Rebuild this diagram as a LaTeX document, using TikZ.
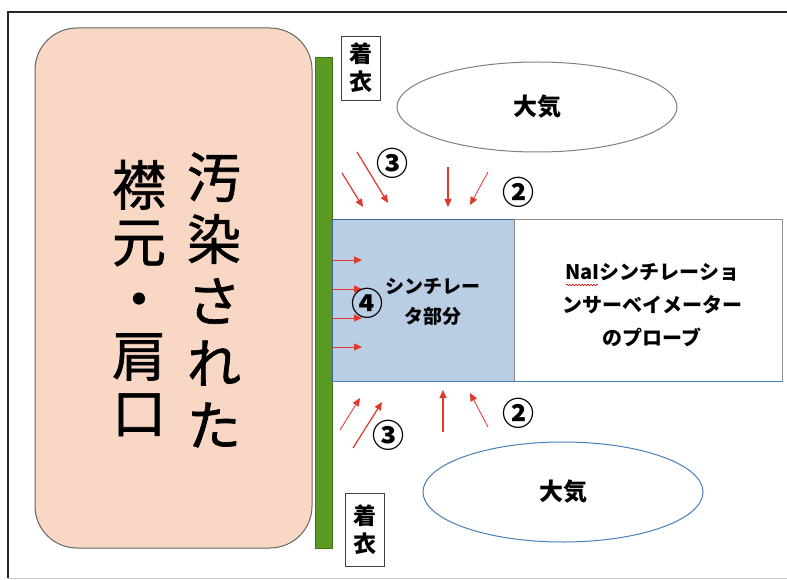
\documentclass[tikz,border=0pt]{standalone}
\usepackage{fontspec}
\setmainfont{Noto Sans CJK JP}
\newfontfamily\jpmed[FakeBold=1.2]{Noto Sans CJK JP}
\usetikzlibrary{arrows.meta,shapes.geometric,decorations.pathmorphing}
\definecolor{skin}{HTML}{F8D8C4}
\definecolor{grn}{HTML}{5A9A22}
\definecolor{scint}{HTML}{B9CDE5}
\definecolor{arrred}{HTML}{E0392B}
\definecolor{edgeblue}{HTML}{4A7FB5}
\tikzset{
  ray/.style={draw=arrred, line width=1.2pt, -{Triangle[length=8pt,width=7pt]}},
  numlbl/.style={font=\bfseries\fontsize{32}{34}\selectfont, inner sep=0pt},
  wearbox/.style={draw=black!75, line width=0.8pt, align=center, inner sep=0pt,
    minimum width=39pt, font=\bfseries\fontsize{23}{28}\selectfont},
  air/.style={ellipse, line width=1pt, minimum width=280pt, font=\bfseries\fontsize{24}{26}\selectfont},
  big/.style={align=center, inner sep=0pt, font=\jpmed\fontsize{54}{62}\selectfont},
  midtext/.style={align=center, inner sep=0pt, font=\bfseries\fontsize{19}{30}\selectfont}
}
\begin{document}
\begin{tikzpicture}[x=1pt,y=-1pt]
\useasboundingbox (0,0) rectangle (787,580);
\fill[white] (0,0) rectangle (787,580);
% frame
\draw[black!85, line width=2pt] (8,578) -- (8,12) -- (790,12);
\draw[black!20, line width=0.6pt] (8,578) -- (787,578);
% body
\node[draw=black!60, fill=skin, rounded corners=42pt, line width=1pt,
  minimum width=277pt, minimum height=520pt] (body) at (173.5,288) {};
\node[big] (t1) at (214,300) {汚\\染\\さ\\れ\\た};
\node[big, font=\jpmed\fontsize{54}{57}\selectfont] (t2) at (139,298) {襟\\元\\・\\肩\\口};
% cloth
\node[fill=grn, draw=grn!75!black, line width=0.6pt, inner sep=0pt,
  minimum width=17pt, minimum height=491pt] (cloth) at (323.5,302.5) {};
\node[wearbox, minimum height=64pt] (w1) at (360.5,68) {着\\衣};
\node[wearbox, minimum height=73pt] (w2) at (364.5,529.5) {着\\衣};
% atmospheres
\node[air, draw=black!50, minimum height=90pt] (air1) at (537,107) {大気};
\node[air, draw=edgeblue, minimum height=100pt] (air2) at (563,492) {大気};
% probe
\node[fill=scint, draw=edgeblue!80!black, line width=1pt, inner sep=0pt,
  minimum width=182pt, minimum height=161pt] (sc) at (423,300.5) {};
\node[fill=white, draw=black!45, line width=1pt, inner sep=0pt,
  minimum width=268pt, minimum height=161pt] (nai) at (648,300.5) {};
\draw[edgeblue, line width=1pt] (sc.south west) -- (nai.south east);
\node[midtext] (sctext) at (433,302) {シンチレー\\タ部分};
\node[midtext, font=\bfseries\fontsize{20}{33}\selectfont] (naitext) at (652,305) {NaIシンチレーショ\\ンサーベイメーター\\のプローブ};
\coordinate (sq1) at (566,285); \coordinate (sq2) at (598,285);
\draw[red!85!black, line width=0.6pt, decorate, decoration={snake, amplitude=0.8pt, segment length=3pt}] (sq1) -- (sq2);
% top arrows
\coordinate (p1s) at (342,173); \coordinate (p1e) at (363,207);
\coordinate (p2s) at (357,152); \coordinate (p2e) at (388,203);
\coordinate (p3s) at (448,167); \coordinate (p3e) at (448,207);
\coordinate (p4s) at (488,172); \coordinate (p4e) at (470,205);
\draw[ray] (p1s) -- (p1e);
\draw[ray] (p2s) -- (p2e);
\draw[ray] (p3s) -- (p3e);
\draw[ray, line width=0.8pt] (p4s) -- (p4e);
% bottom arrows
\coordinate (q1s) at (340,430); \coordinate (q1e) at (360,398);
\coordinate (q2s) at (353,448); \coordinate (q2e) at (382,402);
\coordinate (q3s) at (443,432); \coordinate (q3e) at (443,390);
\coordinate (q4s) at (488,427); \coordinate (q4e) at (470,393);
\draw[ray, line width=0.8pt] (q1s) -- (q1e);
\draw[ray] (q2s) -- (q2e);
\draw[ray] (q3s) -- (q3e);
\draw[ray, line width=0.8pt] (q4s) -- (q4e);
% side arrows
\foreach \yy [count=\i] in {260,289,318,347}{
  \coordinate (r\i s) at (332,\yy);
  \coordinate (r\i e) at (362,\yy);
  \draw[ray, line width=1pt] (r\i s) -- (r\i e);
}
% labels
\node[numlbl] (n3a) at (392,163) {③};
\node[numlbl] (n2a) at (518,192) {②};
\node[numlbl] (n4) at (367,303) {④};
\node[numlbl] (n3b) at (388,435) {③};
\node[numlbl] (n2b) at (518,413) {②};
\end{tikzpicture}
\end{document}
